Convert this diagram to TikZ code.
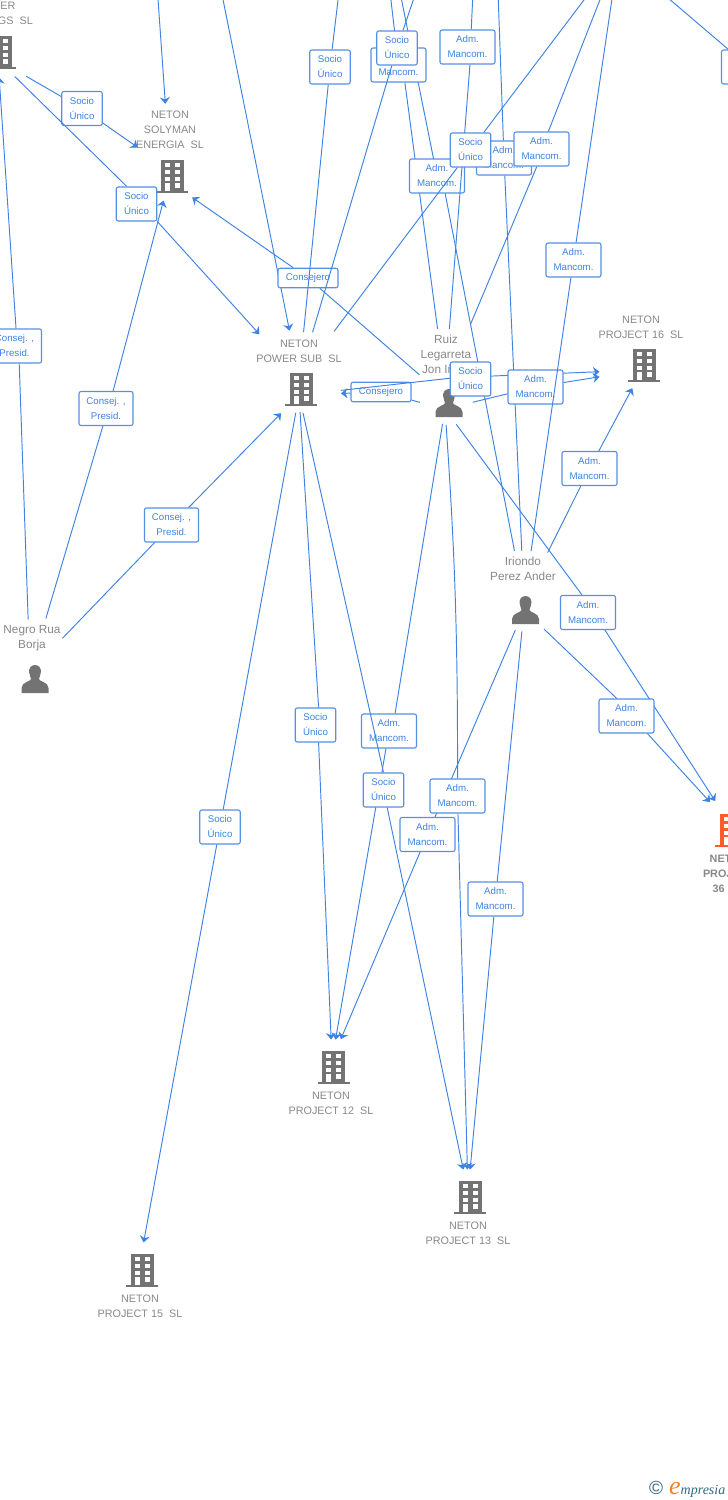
\documentclass[tikz,border=0pt]{standalone}
\usepackage{fontspec}
\setmainfont{Liberation Sans}
\newfontfamily\logofont{Liberation Serif}
\usetikzlibrary{arrows.meta,positioning}

\definecolor{linkcol}{RGB}{62,130,228}
\definecolor{boxcol}{RGB}{84,145,228}
\definecolor{namecol}{RGB}{136,136,136}
\definecolor{iconcol}{RGB}{115,115,115}
\definecolor{maincol}{RGB}{255,92,40}
\definecolor{logocol}{RGB}{52,104,128}
\definecolor{logoorange}{RGB}{245,130,30}

\tikzset{
	building/.pic = {
		\fill [pic actions] (-16,14.5) rectangle (16,16.5);
		\fill [pic actions] (-11.5,-16.5) rectangle (11.5,15);
		\foreach \wy in {-13,-6,1} {
			\fill [white] (-7.5,\wy) rectangle (-2.5,\wy+4);
			\fill [white] (2.5,\wy) rectangle (7.5,\wy+4);
		}
		\fill [white] (-7.5,7) rectangle (-2.5,15);
		\fill [white] (2.5,7) rectangle (7.5,12);
	},
	person/.pic = {
		\fill [pic actions] (0,-14) .. controls (4.5,-14) and (6,-10) .. (6,-7.5)
			.. controls (6,-4) and (4,-2) .. (4,0)
			.. controls (4,2.5) and (13.5,3) .. (13.5,9) -- (13.5,14) -- (-13.5,14) -- (-13.5,9)
			.. controls (-13.5,3) and (-4,2.5) .. (-4,0)
			.. controls (-4,-2) and (-6,-4) .. (-6,-7.5)
			.. controls (-6,-10) and (-4.5,-14) .. (0,-14) -- cycle;
	}
}

\begin{document}
\begin{tikzpicture}
[
	              x = 1pt,
	              y = -1pt,
	              > = {Stealth[length=6.5pt,width=10pt]},
	    entity/.style = { inner sep=0.2pt, outer sep=0pt },
	  compname/.style = { text=namecol, align=center, inner sep=0pt, font=\fontsize{10.8}{15}\selectfont },
	  mainname/.style = { compname, font=\fontsize{10.8}{15}\selectfont\bfseries },
	    ppname/.style = { compname, font=\fontsize{11.8}{15}\selectfont },
	       rel/.style = { draw=linkcol, line width=.95pt },
	    relbox/.style = { draw=boxcol, fill=white, rounded corners=2pt, line width=1.1pt, text=linkcol, align=center, inner sep=0pt, minimum height=34pt, font=\fontsize{9.7}{15}\selectfont, execute at begin node=\vspace*{2pt} },
	     socio/.style = { relbox, minimum width=40.5pt },
	       adm/.style = { relbox, minimum width=55pt },
	    consej/.style = { relbox, minimum width=54pt },
	      cons/.style = { relbox, minimum width=60pt, minimum height=19.5pt }
]
	\useasboundingbox (0,0) rectangle (728,1500);

	% companies and people
	\node (hold) at (-2,60)      [entity] {};
	\node (soly) at (170,176)    [entity, minimum height=12pt] {};
	\node (sub)  at (299,386.5)  [entity, minimum height=17pt] {};
	\node (p16)  at (642,370)    [entity] {};
	\node (p12)  at (332,1060)   [entity] {};
	\node (p13)  at (468,1192)   [entity] {};
	\node (p15)  at (140,1262)   [entity] {};
	\node (p36)  at (730,824)    [entity] {};
	\node (ruiz) at (445,397)    [entity, minimum height=24pt] {};
	\node (iri)  at (524,605)    [entity, minimum height=10pt] {};
	\node (negro) at (30,672)    [entity] {};

	\foreach \ix/\iy in {0/52,172/176,301/389,644/365,333.5/1067,470/1197,142/1270}
		\pic [fill=iconcol] at (\ix,\iy) {building};
	\pic [fill=maincol] at (731,830) {building};
	\foreach \ix/\iy in {449/403,525.5/610,35/679}
		\pic [fill=iconcol] at (\ix,\iy) {person};

	\node (holdname) at (-5,6)    [compname] {NETON\\POWER\\HOLDINGS~~SL};
	\node (solyname) at (170,130) [compname] {NETON\\SOLYMAN\\ENERGIA~~SL};
	\node (subname)  at (299,351) [compname] {NETON\\POWER SUB~~SL};
	\node (p16name)  at (641,327) [compname] {NETON\\PROJECT 16~~SL};
	\node (p12name)  at (331,1103) [compname] {NETON\\PROJECT 12~~SL};
	\node (p13name)  at (468,1233) [compname] {NETON\\PROJECT 13~~SL};
	\node (p15name)  at (140,1306) [compname] {NETON\\PROJECT 15~~SL};
	\node (p36name)  at (728.5,874) [mainname] {NETON\\PROJECT\\36~~SL};
	\node (ruizname) at (446,355) [ppname] {Ruiz\\Legarreta\\Jon Iñigo};
	\node (iriname)  at (523,569) [ppname] {Iriondo\\Perez Ander};
	\node (negroname) at (32,638) [ppname] {Negro Rua\\Borja};

	% ends above the page
	\coordinate (up1)  at (157.5,-8);
	\coordinate (up2)  at (221.5,-8);
	\coordinate (up3)  at (339,-8);
	\coordinate (up4)  at (416,-8);
	\coordinate (up5)  at (590,-8);
	\coordinate (up6)  at (603,-8);
	\coordinate (up7)  at (613,-8);
	\coordinate (up8)  at (498,-8);
	\coordinate (up9)  at (390,-8);
	\coordinate (up10) at (400,-8);
	\coordinate (up11) at (473,-8);
	\coordinate (up12) at (661,-8);
	\coordinate (mid10) at (437,176);

	% lines with no box
	\draw [rel, ->, shorten >=66.4pt] (up1) -- (soly.north);
	\draw [rel, ->, shorten >=48.3pt] (up2) -- (sub.north);

	% upper boxes
	\node (cons1) at (308,278) [cons] {Consejero};
	\draw [rel, shorten <=33.3pt] (ruiz) -- (cons1);
	\draw [rel, ->, shorten >=27pt] (cons1) -- (soly.south);

	\draw [rel] (up10) -- (mid10);
	\node (adm1) at (398.5,65) [adm] {Adm.\\Mancom.};
	\draw [rel] (up9) -- (adm1);
	\draw [rel, shorten >=56.6pt] (adm1.-70) -- (ruiz.north);

	\node (adm2) at (437,176) [adm] {Adm.\\Mancom.};
	\draw [rel, shorten >=50pt] (adm2.-65) -- (iri.north);

	\node (adm3) at (504,158) [adm] {Adm.\\Mancom.};
	\draw [rel] (up8) -- (adm3);
	\draw [rel, shorten >=49pt] (adm3) -- (iri.north);

	\node (adm4) at (467.5,47) [adm] {Adm.\\Mancom.};
	\draw [rel] (up11) -- (adm4.78);
	\draw [rel, shorten >=56.2pt] (adm4.-82) -- (ruiz.north);

	\node (soc1) at (470.5,150) [socio] {Socio\\Único};
	\draw [rel] (up5) -- (soc1);
	\draw [rel, shorten >=58.4pt] (soc1) -- (sub.north);

	\node (adm5) at (541.5,149) [adm] {Adm.\\Mancom.};
	\draw [rel] (up6) -- (adm5);
	\draw [rel, shorten >=65.8pt] (adm5.-105) -- (ruiz.north);

	\node (soc2) at (330,67) [socio] {Socio\\Único};
	\draw [rel] (up3) -- (soc2);
	\draw [rel, shorten >=46.2pt] (soc2) -- (sub.north);

	\node (soc3) at (397,48) [socio] {Socio\\Único};
	\draw [rel] (up4) -- (soc3);
	\draw [rel, shorten >=47.7pt] (soc3) -- (sub.north);

	% around Ruiz
	\node (cons2) at (381,392) [cons] {Consejero};
	\draw [rel, shorten <=26pt] (ruiz.south) -- (cons2);
	\draw [rel, ->, shorten >=42pt] (cons2) -- (sub.south);

	\node (soc4) at (470.5,379) [socio] {Socio\\Único};
	\draw [rel, shorten <=42pt] (sub.south) -- (soc4.178);
	\draw [rel, ->, shorten >=42pt] (soc4.8) -- (p16);

	\node (adm6) at (535.5,387) [adm] {Adm.\\Mancom.};
	\draw [rel, shorten <=28.5pt] (ruiz.south) -- (adm6);
	\draw [rel, ->, shorten >=42.5pt] (adm6) -- (p16);

	\node (adm7) at (573.5,260) [adm] {Adm.\\Mancom.};
	\draw [rel] (up7) -- (adm7);
	\draw [rel, shorten >=49.4pt] (adm7) -- (iri.north);

	\node (adm8) at (589.5,468.5) [adm] {Adm.\\Mancom.};
	\draw [rel, shorten <=53pt] (iri.north) -- (adm8);
	\draw [rel, ->, shorten >=20pt] (adm8) -- (p16);

	\node (adm9) at (588,612.5) [adm] {Adm.\\Mancom.};
	\draw [rel, shorten <=19pt] (ruiz.south) -- (adm9.109);
	\draw [rel, ->, shorten >=26.7pt] (adm9.-46) -- (p36);

	\node (adm10) at (626.5,716) [adm] {Adm.\\Mancom.};
	\draw [rel, shorten <=27.6pt] (iri.south) -- (adm10.119);
	\draw [rel, ->, shorten >=29pt] (adm10.-40) -- (p36);

	% lower boxes
	\node (adm11) at (389,731) [adm] {Adm.\\Mancom.};
	\draw [rel, shorten <=15pt] (ruiz.south) -- (adm11.71);
	\draw [rel, ->, shorten >=20.2pt] (adm11) -- (p12);

	\node (soc5) at (315.5,725) [socio] {Socio\\Único};
	\draw [rel, shorten <=17pt] (sub.south) -- (soc5.80);
	\draw [rel, ->, shorten >=20pt] (soc5.-80) -- (p12);

	\node (soc6) at (383.5,790) [socio] {Socio\\Único};
	\draw [rel, shorten <=18.4pt] (sub.south) -- (soc6.north);
	\draw [rel, ->, shorten >=22.4pt] (soc6) -- (p13);

	\node (adm12) at (427.5,834.5) [adm] {Adm.\\Mancom.};
	\draw [rel, shorten <=22pt] (iri.south) -- (adm12);
	\draw [rel, ->, shorten >=22pt] (adm12) -- (p12);

	\node (adm13) at (457.5,796) [adm] {Adm.\\Mancom.};
	\draw [rel, shorten <=16pt] (ruiz.south) to [bend left=2] (adm13);
	\draw [rel, ->, shorten >=22pt] (adm13) -- (p13);

	\node (adm14) at (495.5,899) [adm] {Adm.\\Mancom.};
	\draw [rel, shorten <=21.5pt] (iri.south) -- (adm14);
	\draw [rel, ->, shorten >=22pt] (adm14) -- (p13);

	\node (soc7) at (220,827) [socio] {Socio\\Único};
	\draw [rel, shorten <=18.2pt] (sub.south) -- (soc7);
	\draw [rel, ->, shorten >=19.4pt] (soc7) -- (p15);

	% left side
	\node (soc8) at (82,108.5) [socio] {Socio\\Único};
	\draw [rel, shorten <=32pt] (hold) -- (soc8);
	\draw [rel, ->, shorten >=39.4pt] (soc8) -- (soly.north);

	\node (soc9) at (136.5,204) [socio] {Socio\\Único};
	\draw [rel, shorten <=22.7pt] (hold) -- (soc9.119);
	\draw [rel, ->, shorten >=59pt] (soc9.-40) -- (sub.north);

	\node (presi1) at (14.5,346) [consej] {Consej. ,\\Presid.};
	\draw [rel, shorten <=52pt] (negro) -- (presi1.-75);
	\draw [rel, ->, shorten >=17pt] (presi1.85) -- (hold);

	\node (presi2) at (106,408.5) [consej] {Consej. ,\\Presid.};
	\draw [rel, shorten <=55.4pt] (negro) -- (presi2.-100);
	\draw [rel, ->, shorten >=23.5pt] (presi2.68) -- (soly);

	\node (presi3) at (171.5,525) [consej] {Consej. ,\\Presid.};
	\draw [rel, shorten <=46pt] (negro) -- (presi3);
	\draw [rel, ->, shorten >=25.5pt] (presi3) -- (sub.south);

	% box at the right edge
	\node (adm15) at (749,67) [adm] {Adm.\\Mancom.};
	\draw [rel] (up12) -- (adm15);

	\node (brand) at (725.5,1489) [anchor=east, inner sep=0pt] {\textcolor{logocol}{\fontsize{19}{19}\selectfont ©}\hspace{6pt}{\logofont\itshape\textcolor{logoorange}{\fontsize{26}{26}\selectfont e}\textcolor{logocol}{\fontsize{14}{14}\selectfont mpresia}}};

\end{tikzpicture}
\end{document}
